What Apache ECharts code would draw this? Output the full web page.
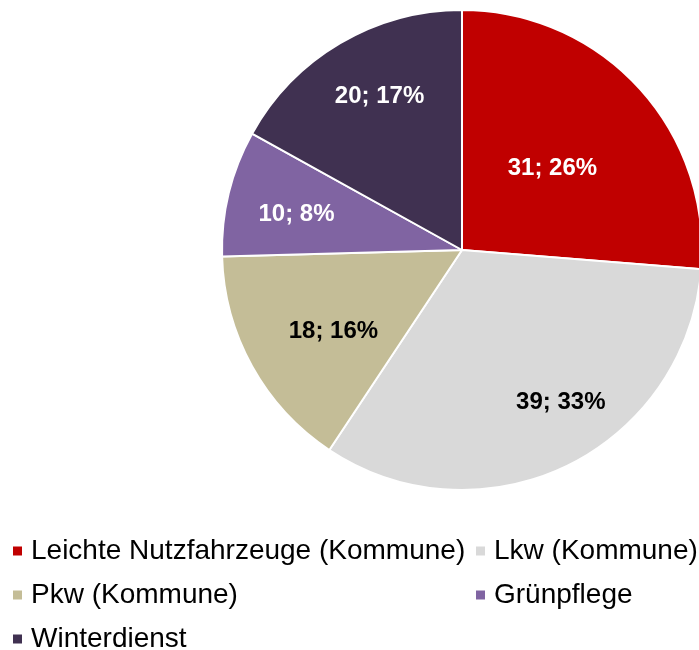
<!DOCTYPE html>
<html>
<head>
<meta charset="utf-8">
<script src="https://cdn.jsdelivr.net/npm/echarts@6/dist/echarts.min.js"></script>
<style>
  html, body { margin: 0; padding: 0; background: #fff; }
  #pie { width: 699px; height: 650px; }
</style>
</head>
<body>
<div id="pie"></div>
<script>
// Fahrzeuge nach Einsatzbereich
var categories = ['Leichte Nutzfahrzeuge (Kommune)', 'Lkw (Kommune)', 'Pkw (Kommune)', 'Grünpflege', 'Winterdienst'];
var values = [31, 39, 18, 10, 20];
var percentLabels = ['26%', '33%', '16%', '8%', '17%'];
var colors = ['#C00000', '#D9D9D9', '#C4BD97', '#8064A2', '#403151'];
var labelColors = ['#fff', '#000', '#000', '#fff', '#fff'];
// nudges so the labels sit where the original puts them
var labelOffsets = [[0, 2], [45, 42], [-21, 22], [-46, -6], [-20, -48]];

var data = categories.map(function (name, i) {
	return {
		name: name,
		value: values[i],
		label: { color: labelColors[i], offset: labelOffsets[i] }
	};
});

var legendText = {
	fontFamily: 'Liberation Sans, Arial, sans-serif',
	fontSize: 28,
	color: '#000',
	padding: [0, 0, 0, 3]
};

var myChart = echarts.init(document.getElementById('pie'));
myChart.setOption({
	animation: false,
	color: colors,
	legend: [
		{
			data: [categories[0], categories[2], categories[4]],
			orient: 'vertical',
			left: 6,
			top: 532,
			height: 140,
			itemWidth: 11,
			itemHeight: 11,
			itemGap: 16,
			icon: 'rect',
			textStyle: legendText
		},
		{
			data: [categories[1], categories[3]],
			orient: 'vertical',
			left: 469,
			top: 532,
			height: 140,
			itemWidth: 11,
			itemHeight: 11,
			itemGap: 16,
			icon: 'rect',
			textStyle: legendText
		}
	],
	series: [
		{
			name: 'Fahrzeuge',
			type: 'pie',
			center: [462, 250],
			radius: 240,
			startAngle: 90,
			clockwise: true,
			avoidLabelOverlap: false,
			itemStyle: { borderColor: '#fff', borderWidth: 2 },
			label: {
				show: true,
				position: 'inside',
				fontFamily: 'Liberation Sans, Arial, sans-serif',
				fontWeight: 'bold',
				fontSize: 24,
				formatter: function (p) {
					return p.value + '; ' + percentLabels[p.dataIndex];
				}
			},
			labelLine: { show: false },
			emphasis: { disabled: true },
			data: data
		}
	]
});
</script>
</body>
</html>
